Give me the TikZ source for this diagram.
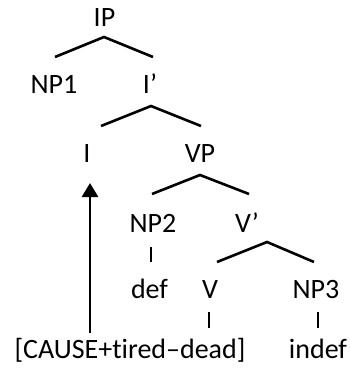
\documentclass[tikz,border=0pt]{standalone}
\usepackage{fontspec}
\setmainfont{Carlito}[Ligatures={NoCommon,NoContextual}]
\usetikzlibrary{arrows.meta}
\tikzset{
  lab/.style={anchor=base, inner sep=0pt, font=\fontsize{28}{34}\selectfont},
  branch/.style={line width=2.6pt, line cap=butt},
}
\begin{document}
\begin{tikzpicture}[x=1pt, y=-1pt]
\useasboundingbox (0,0) rectangle (349,372);
% labels
\node[lab] (IP)  at (104.5,27) {IP};
\node[lab] (NP1) at (54,93) {NP1};
\node[lab] (Ib)  at (150,93) {I’};
\node[lab] (I)   at (87,162) {I};
\node[lab] (VP)  at (200,162) {VP};
\node[lab] (NP2) at (153,232) {NP2};
\node[lab] (Vb)  at (247,232) {V’};
\node[lab] (def) at (149.5,298) {def};
\node[lab] (V)   at (210,298) {V};
\node[lab] (NP3) at (316,298) {NP3};
\node[lab] (cause) at (130,358) {[CAUSE+tired–dead]};
\node[lab] (indef) at (318,358) {indef};
% branch points
\coordinate (ipA) at (104,37);  \coordinate (ipL) at (55,57);  \coordinate (ipR) at (153,57);
\coordinate (ibA) at (151,106); \coordinate (ibL) at (101,126); \coordinate (ibR) at (201,126);
\coordinate (vpA) at (200,175); \coordinate (vpL) at (152,194); \coordinate (vpR) at (249,194);
\coordinate (vbA) at (267,242); \coordinate (vbL) at (217,262); \coordinate (vbR) at (314,262);
\coordinate (np2T) at (151,247); \coordinate (np2B) at (151,262);
\coordinate (vT) at (209,312);   \coordinate (vB) at (209,328);
\coordinate (np3T) at (318,312); \coordinate (np3B) at (318,328);
\coordinate (arB) at (90,333);   \coordinate (arT) at (90,183);
% branches
\draw[branch] (ipL) -- (ipA) -- (ipR);
\draw[branch] (ibL) -- (ibA) -- (ibR);
\draw[branch] (vpL) -- (vpA) -- (vpR);
\draw[branch] (vbL) -- (vbA) -- (vbR);
\draw[branch] (np2T) -- (np2B);
\draw[branch] (vT) -- (vB);
\draw[branch] (np3T) -- (np3B);
\draw[branch, -{Triangle[length=14pt,width=16pt]}] (arB) -- (arT);
\end{tikzpicture}
\end{document}
